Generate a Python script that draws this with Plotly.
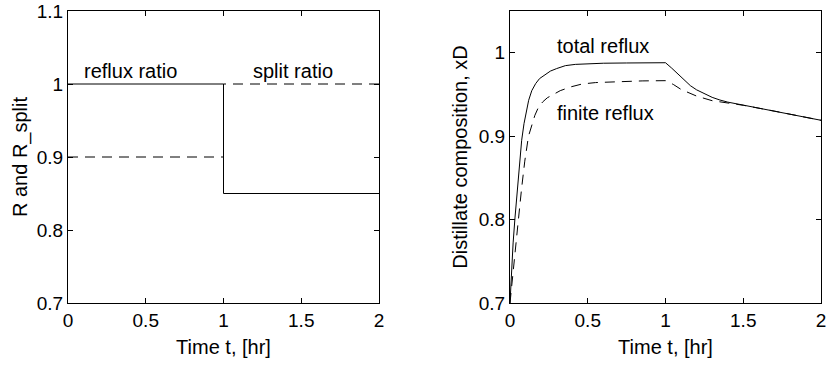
import plotly.graph_objects as go

# Left panel: step inputs
t_step = [0, 1, 2]
reflux_ratio = [1.0, 0.85, 0.85]
split_ratio = [0.9, 1.0, 1.0]

# Right panel: distillate composition
t_total = [0, 0.01, 0.02, 0.032, 0.045, 0.06, 0.075, 0.09, 0.105, 0.12, 0.14, 0.165, 0.19, 0.226, 0.26, 0.3,
           0.356, 0.42, 0.5, 0.6, 0.75, 0.9, 1.0,
           1.04, 1.08, 1.12, 1.16, 1.2, 1.25, 1.3, 1.35, 1.4, 1.5, 1.7, 1.85, 2.0]
xd_total = [0.7, 0.74, 0.772, 0.802, 0.832, 0.864, 0.895, 0.915, 0.931, 0.943, 0.9545, 0.963, 0.969, 0.974, 0.978, 0.981,
            0.9845, 0.986, 0.987, 0.9874, 0.9877, 0.9879, 0.988,
            0.9815, 0.9745, 0.967, 0.9605, 0.9555, 0.9505, 0.9465, 0.9433, 0.9408, 0.9372, 0.930, 0.9245, 0.919]
t_finite = [0, 0.015, 0.03, 0.054, 0.075, 0.095, 0.119, 0.14, 0.16, 0.183, 0.21, 0.24, 0.28, 0.323, 0.39, 0.464,
            0.55, 0.7, 0.85, 1.0,
            1.05, 1.1, 1.2, 1.3, 1.4, 1.5, 1.7, 1.85, 2.0]
xd_finite = [0.7, 0.73, 0.76, 0.8, 0.838, 0.87, 0.9, 0.914, 0.925, 0.9346, 0.941, 0.946, 0.9505, 0.9545, 0.959, 0.9625,
             0.9642, 0.9656, 0.9662, 0.9665,
             0.962, 0.956, 0.948, 0.9425, 0.9395, 0.937, 0.930, 0.9245, 0.919]

x_ticks = [0, 0.5, 1, 1.5, 2]
x_ticklabels = ["0", "0.5", "1", "1.5", "2"]
y1_ticks = [0.7, 0.8, 0.9, 1.0, 1.1]
y1_ticklabels = ["0.7", "0.8", "0.9", "1", "1.1"]
y2_ticks = [0.7, 0.8, 0.9, 1.0]
y2_ticklabels = ["0.7", "0.8", "0.9", "1"]

FONT = "Liberation Sans, Arial, sans-serif"
FS_TICK = 19
FS_TEXT = 20

W, H = 827, 367


def fx(px):
    return px / W


def fy(py):
    return 1 - py / H


fig = go.Figure()
line_solid = dict(color="black", width=1)
line_dash = dict(color="black", width=1, dash="10px,7px")

fig.add_trace(go.Scatter(x=t_step, y=reflux_ratio, mode="lines", line=dict(shape="hv", **line_solid),
                         xaxis="x", yaxis="y", showlegend=False))
fig.add_trace(go.Scatter(x=t_step, y=split_ratio, mode="lines", line=dict(shape="hv", **line_dash),
                         xaxis="x", yaxis="y", showlegend=False))
fig.add_trace(go.Scatter(x=t_total, y=xd_total, mode="lines", line=line_solid,
                         xaxis="x2", yaxis="y2", showlegend=False))
fig.add_trace(go.Scatter(x=t_finite, y=xd_finite, mode="lines", line=line_dash,
                         xaxis="x2", yaxis="y2", showlegend=False))

axis_common = dict(showgrid=False, zeroline=False, showline=True, linecolor="black", linewidth=1,
                   mirror="ticks", ticks="inside", ticklen=5, tickcolor="black", tickwidth=1,
                   automargin=False, ticklabeloverflow="allow",
                   tickfont=dict(family=FONT, size=FS_TICK, color="black"))

ydom = [fy(303), fy(11)]

fig.update_layout(
    template="none",
    width=W, height=H,
    margin=dict(l=0, r=0, t=0, b=0, pad=0),
    paper_bgcolor="white", plot_bgcolor="white",
    font=dict(family=FONT, size=FS_TEXT, color="black"),
    showlegend=False,
    xaxis=dict(domain=[fx(68), fx(379)], range=[0, 2], tickvals=x_ticks, ticktext=x_ticklabels, anchor="y",
               title=dict(text="Time t, [hr]", standoff=10, font=dict(family=FONT, size=FS_TEXT)), **axis_common),
    yaxis=dict(domain=ydom, range=[0.7, 1.1], tickvals=y1_ticks, ticktext=y1_ticklabels, anchor="x",
               title=dict(text="R and R_split", standoff=3, font=dict(family=FONT, size=FS_TEXT)), **axis_common),
    xaxis2=dict(domain=[fx(510), fx(821)], range=[0, 2], tickvals=x_ticks, ticktext=x_ticklabels, anchor="y2",
                title=dict(text="Time t, [hr]", standoff=10, font=dict(family=FONT, size=FS_TEXT)), **axis_common),
    yaxis2=dict(domain=ydom, range=[0.7, 1.05], tickvals=y2_ticks, ticktext=y2_ticklabels, anchor="x2",
                title=dict(text="Distillate composition, xD", standoff=5, font=dict(family=FONT, size=FS_TEXT)),
                **axis_common),
    annotations=[
        dict(x=0.40, y=1.018, xref="x", yref="y", text="reflux ratio", showarrow=False,
             font=dict(family=FONT, size=FS_TEXT)),
        dict(x=1.45, y=1.018, xref="x", yref="y", text="split ratio", showarrow=False,
             font=dict(family=FONT, size=FS_TEXT)),
        dict(x=0.60, y=1.008, xref="x2", yref="y2", text="total reflux", showarrow=False,
             font=dict(family=FONT, size=FS_TEXT)),
        dict(x=0.615, y=0.928, xref="x2", yref="y2", text="finite reflux", showarrow=False,
             font=dict(family=FONT, size=FS_TEXT)),
    ],
)

# remove the browser's default 8px body margin so the figure fills the window exactly
fig.write_html("out.html", config={"displayModeBar": False},
               post_script="document.body.style.margin='0px';document.body.style.overflow='hidden';")
